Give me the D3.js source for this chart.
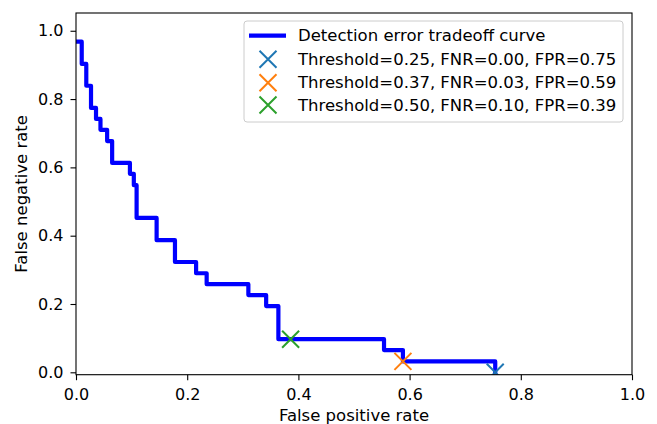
<!DOCTYPE html>
<html>
<head>
<meta charset="utf-8">
<script src="https://cdn.jsdelivr.net/npm/d3@7"></script>
<style>
  body { margin: 0; background: #fff; }
  text { font-family: "DejaVu Sans", sans-serif; }
</style>
</head>
<body>
<svg id="chart" width="657" height="424"></svg>
<script>
// DET curve corners (step after)
var fpr = [0, 0.0103, 0.0185, 0.027, 0.036, 0.044, 0.056, 0.065, 0.097, 0.104, 0.109,
    0.145, 0.178, 0.216, 0.235, 0.310, 0.342, 0.364, 0.554, 0.588, 0.754];
var fnr = [0.968, 0.903, 0.839, 0.774, 0.742, 0.710, 0.677, 0.613, 0.581, 0.548, 0.452,
    0.387, 0.323, 0.290, 0.258, 0.226, 0.194, 0.097, 0.065, 0.032, 0.0];

// threshold points
var thresholds = [0.25, 0.37, 0.50];
var pointFpr = [0.754, 0.588, 0.386];
var pointFnr = [0.0, 0.032, 0.097];
var pointColors = ["#1f77b4", "#ff7f0e", "#2ca02c"];

var xTicks = [0, 0.2, 0.4, 0.6, 0.8, 1.0];
var yTicks = [0, 0.2, 0.4, 0.6, 0.8, 1.0];

var axLeft = 76, axRight = 632, axTop = 13, axBottom = 374.7;
var fs = 16.5, tickFs = 16;

var svg = d3.select("#chart");

var x = d3.scaleLinear().domain([0, 1]).range([axLeft, axRight]);
var y = d3.scaleLinear().domain([-0.007, 1.052]).range([axBottom, axTop]);

svg.append("clipPath")
    .attr("id", "plotclip")
    .append("rect")
    .attr("x", axLeft).attr("y", axTop)
    .attr("width", axRight - axLeft).attr("height", axBottom - axTop);

var curve = fpr.map(function (d, i) { return [d, fnr[i]]; });

var line = d3.line()
    .x(function (d) { return x(d[0]); })
    .y(function (d) { return y(d[1]); })
    .curve(d3.curveStepAfter);

svg.append("path")
    .datum(curve)
    .attr("clip-path", "url(#plotclip)")
    .attr("d", line)
    .attr("fill", "none")
    .attr("stroke", "blue")
    .attr("stroke-width", 4.2)
    .attr("stroke-linecap", "square")
    .attr("stroke-linejoin", "round");

var points = thresholds.map(function (t, i) {
    return { t: t, fpr: pointFpr[i], fnr: pointFnr[i], color: pointColors[i] };
});

var arm = 8.5;
function cross(g, cx, cy, color) {
    g.append("path")
        .attr("d", "M" + (cx - arm) + "," + (cy - arm) + "L" + (cx + arm) + "," + (cy + arm) +
            "M" + (cx - arm) + "," + (cy + arm) + "L" + (cx + arm) + "," + (cy - arm))
        .attr("stroke", color)
        .attr("stroke-width", 2)
        .attr("fill", "none");
}

var markG = svg.append("g").attr("clip-path", "url(#plotclip)");
points.forEach(function (d) {
    cross(markG, x(d.fpr), y(d.fnr), d.color);
});

// axes
var xAxis = d3.axisBottom(x).tickValues(xTicks).tickSize(5.5).tickPadding(8.4)
    .tickSizeOuter(0).tickFormat(d3.format(".1f"));
var yAxis = d3.axisLeft(y).tickValues(yTicks).tickSize(5.5).tickPadding(7)
    .tickSizeOuter(0).tickFormat(d3.format(".1f"));

var gx = svg.append("g").attr("transform", "translate(0," + axBottom + ")").call(xAxis);
var gy = svg.append("g").attr("transform", "translate(" + axLeft + ",0)").call(yAxis);
[gx, gy].forEach(function (g) {
    g.select(".domain").remove();
    g.selectAll("line").attr("stroke", "#000").attr("stroke-width", 1.1);
    g.selectAll("text")
        .attr("fill", "#000")
        .style("font-family", "DejaVu Sans")
        .style("font-size", tickFs + "px");
});

svg.append("rect")
    .attr("x", axLeft).attr("y", axTop)
    .attr("width", axRight - axLeft).attr("height", axBottom - axTop)
    .attr("fill", "none")
    .attr("stroke", "#000")
    .attr("stroke-width", 1.1);

svg.append("text")
    .attr("x", (axLeft + axRight) / 2)
    .attr("y", 421)
    .attr("text-anchor", "middle")
    .style("font-size", fs + "px")
    .text("False positive rate");

svg.append("text")
    .attr("transform", "translate(27," + ((axTop + axBottom) / 2) + ") rotate(-90)")
    .attr("text-anchor", "middle")
    .style("font-size", fs + "px")
    .text("False negative rate");

// legend
var legend = svg.append("g");
legend.append("rect")
    .attr("x", 244).attr("y", 21)
    .attr("width", 379).attr("height", 101)
    .attr("rx", 3)
    .attr("fill", "#fff")
    .attr("fill-opacity", 0.8)
    .attr("stroke", "#cccccc")
    .attr("stroke-width", 1);

var rowY = [35.7, 59.3, 82.7, 105];
legend.append("line")
    .attr("x1", 249).attr("x2", 286)
    .attr("y1", rowY[0]).attr("y2", rowY[0])
    .attr("stroke", "blue")
    .attr("stroke-width", 4.2);
legend.append("text")
    .attr("x", 298).attr("y", rowY[0]).attr("dy", "0.35em")
    .style("font-size", fs + "px")
    .text("Detection error tradeoff curve");

points.forEach(function (d, i) {
    cross(legend, 268, rowY[i + 1], d.color);
    legend.append("text")
        .attr("x", 298).attr("y", rowY[i + 1]).attr("dy", "0.35em")
        .style("font-size", fs + "px")
        .text("Threshold=" + d.t.toFixed(2) + ", FNR=" + d.fnr.toFixed(2) + ", FPR=" + d.fpr.toFixed(2));
});
</script>
</body>
</html>
